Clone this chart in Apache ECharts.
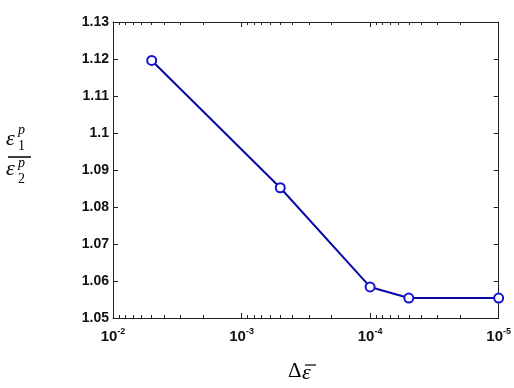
<!DOCTYPE html>
<html>
<head>
<meta charset="utf-8">
<script src="https://cdn.jsdelivr.net/npm/echarts@6/dist/echarts.min.js"></script>
<style>
html,body{margin:0;padding:0;background:#fff;}
#chart{width:514px;height:388px;}
</style>
</head>
<body>
<div id="chart"></div>
<script>
// Data
const strainIncrements = [5e-3, 5e-4, 1e-4, 5e-5, 1e-5];
const strainRatio = [1.1196, 1.0852, 1.0584, 1.0554, 1.0554];
const xMajorTicks = [1e-2, 1e-3, 1e-4, 1e-5];
const xMinorTicks = [];
[1e-3, 1e-4, 1e-5].forEach(function (d) {
  for (let k = 2; k <= 9; k++) xMinorTicks.push(+(k * d).toPrecision(3));
});
const yMin = 1.05, yMax = 1.13, yStep = 0.01;

const chart = echarts.init(document.getElementById('chart'), null, {renderer: 'canvas'});
const axisColor = '#222';
const tickFont = '"Liberation Sans", Arial, sans-serif';

function logAxis(pos, showLabel, ticks, len, showLine) {
  return {
    type: 'log', logBase: 10, min: 1e-5, max: 1e-2, inverse: true,
    position: pos,
    axisLine: {show: showLine, lineStyle: {color: axisColor, width: 1}},
    axisTick: {show: true, inside: true, length: len, customValues: ticks, lineStyle: {color: axisColor, width: 1}},
    splitLine: {show: false},
    minorTick: {show: false},
    axisLabel: {
      show: showLabel, margin: 9,
      customValues: showLabel ? xMajorTicks : undefined,
      formatter: function (v) {
        const e = Math.round(Math.log10(v));
        return '{b|10}{s|' + e + '}';
      },
      rich: {
        b: {fontFamily: tickFont, fontWeight: 'bold', fontSize: 15, color: '#111'},
        s: {fontFamily: tickFont, fontWeight: 'bold', fontSize: 9, color: '#111', padding: [0, 0, 10, 0]}
      }
    }
  };
}

function valAxis(pos, showLabel) {
  return {
    type: 'value', min: yMin, max: yMax, interval: yStep, position: pos,
    axisLine: {show: true, lineStyle: {color: axisColor, width: 1}},
    axisTick: {show: true, inside: true, length: 5, lineStyle: {color: axisColor}},
    splitLine: {show: false},
    axisLabel: {
      show: showLabel, margin: 4,
      fontFamily: tickFont, fontWeight: 'bold', fontSize: 14, color: '#111',
      formatter: function (v) { return String(parseFloat(v.toFixed(2))); }
    }
  };
}

const serif = '"Liberation Serif", "DejaVu Serif", serif';
const option = {
  backgroundColor: '#fff',
  animation: false,
  grid: {left: 113, right: 13, top: 22, bottom: 70, containLabel: false},
  xAxis: [
    logAxis('bottom', true, xMajorTicks, 5, true),
    logAxis('bottom', false, xMinorTicks, 3, false),
    logAxis('top', false, xMajorTicks, 5, true),
    logAxis('top', false, xMinorTicks, 3, false)
  ],
  yAxis: [valAxis('left', true), valAxis('right', false)],
  series: [{
    type: 'line',
    xAxisIndex: 0, yAxisIndex: 0,
    data: strainIncrements.map(function (x, i) { return [x, strainRatio[i]]; }),
    symbol: 'emptyCircle', symbolSize: 9,
    lineStyle: {color: '#0808a8', width: 2},
    itemStyle: {color: '#1414d0', borderColor: '#1414d0', borderWidth: 2}
  }],
  graphic: [
    {type: 'text', left: 6, top: 128, style: {text: 'ε', font: 'italic 22px ' + serif, fill: '#000'}},
    {type: 'text', left: 18, top: 123, style: {text: 'p', font: 'italic 14px ' + serif, fill: '#000'}},
    {type: 'text', left: 18, top: 139, style: {text: '1', font: '14px ' + serif, fill: '#000'}},
    {type: 'line', shape: {x1: 8, y1: 157, x2: 31, y2: 157}, style: {stroke: '#000', lineWidth: 1.5}},
    {type: 'text', left: 6, top: 158, style: {text: 'ε', font: 'italic 22px ' + serif, fill: '#000'}},
    {type: 'text', left: 18, top: 156, style: {text: 'p', font: 'italic 14px ' + serif, fill: '#000'}},
    {type: 'text', left: 18, top: 172, style: {text: '2', font: '14px ' + serif, fill: '#000'}},
    {type: 'text', left: 288, top: 361, style: {text: 'Δ', font: '21px ' + serif, fill: '#000'}},
    {type: 'text', left: 302, top: 362, style: {text: 'ε', font: 'italic 22px ' + serif, fill: '#000'}},
    {type: 'line', shape: {x1: 305, y1: 365, x2: 316, y2: 365}, style: {stroke: '#000', lineWidth: 1.2}}
  ]
};
chart.setOption(option);
</script>
</body>
</html>
